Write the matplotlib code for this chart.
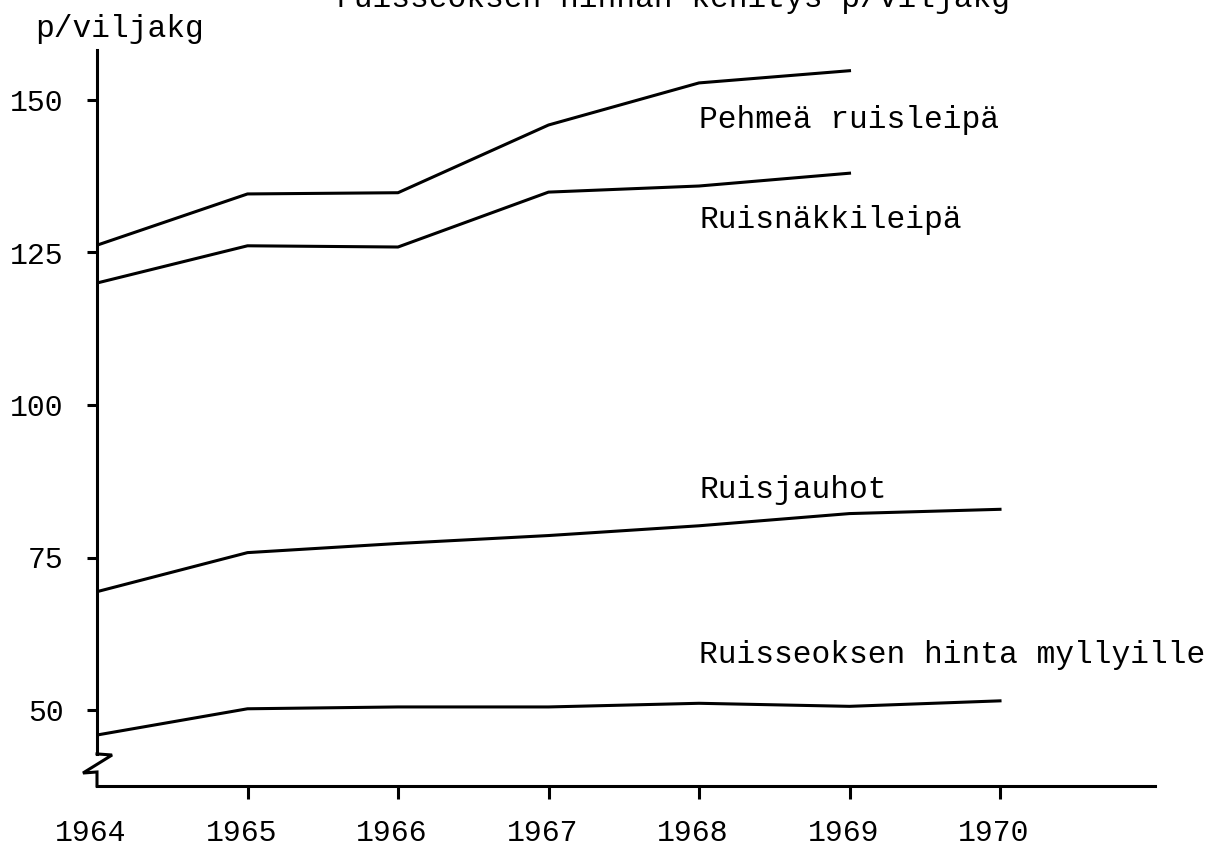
import matplotlib
matplotlib.use("Agg")
import matplotlib.pyplot as plt
import matplotlib.transforms as mtransforms

# data
years = [1964, 1965, 1966, 1967, 1968, 1969, 1970]
pehmea = [126.2, 134.6, 134.8, 145.9, 152.8, 154.8]
nakki = [120.0, 126.1, 125.9, 134.9, 135.9, 138.0]
jauhot = [69.4, 75.8, 77.3, 78.6, 80.2, 82.2, 82.9]
seos = [45.9, 50.2, 50.5, 50.5, 51.1, 50.6, 51.5]
y_ticks = [50, 75, 100, 125, 150]

labels = ["Pehmeä ruisleipä", "Ruisnäkkileipä", "Ruisjauhot",
          "Ruisseoksen hinta myllyille"]
label_y = [145.4, 129.0, 84.7, 57.7]

plt.rcParams['font.family'] = ['Liberation Mono', 'DejaVu Sans Mono']
W, H = 1220, 846
fig = plt.figure(figsize=(W / 100, H / 100), dpi=100)
ax = fig.add_axes([97 / W, 1 - 786 / H, (1155 - 97) / W, (786 - 50) / H])
ax.set_xlim(1964, 1964 + (1155 - 97) / 150.5)
ax.set_ylim(50 - 76 / 6.1, 150 + 50 / 6.1)

lw = 2.2
for vals in [pehmea, nakki, jauhot, seos]:
    ax.plot(years[:len(vals)], vals, color='black', lw=lw, solid_joinstyle='round')

for txt, y in zip(labels, label_y):
    ax.text(1968.0, y, txt, fontsize=22.5, va='baseline', ha='left')

# axes styling
for s in ['top', 'right']:
    ax.spines[s].set_visible(False)
ax.spines['left'].set_linewidth(lw)
ax.spines['bottom'].set_linewidth(lw)
ax.spines['left'].set_bounds(42.8, 150 + 50 / 6.1)

# axis break symbol on the y axis
ax.plot([1964, 1964.10, 1963.907, 1964, 1964],
        [42.8, 42.62, 39.67, 39.84, ax.get_ylim()[0]],
        color='black', lw=lw, clip_on=False, solid_joinstyle='miter')

ax.set_yticks(y_ticks)
ax.set_yticklabels([str(v) for v in y_ticks])
ax.set_xticks(years)
ax.set_xticklabels([str(y) for y in years])
ax.tick_params(axis='y', length=7, width=lw, pad=17, labelsize=21.5)
ax.tick_params(axis='x', length=9.5, width=lw, pad=14, labelsize=21.5)
ax.xaxis.get_major_ticks()[0].tick1line.set_visible(False)
shift = mtransforms.ScaledTranslation(-6 / 100, 0, fig.dpi_scale_trans)
for lab in ax.get_xticklabels():
    lab.set_transform(lab.get_transform() + shift)

fig.text(35 / W, 1 - 37 / H, "p/viljakg", fontsize=22.5, va='baseline', ha='left')
fig.text(335 / W, 1 - 7 / H, "ruisseoksen hinnan kehitys p/viljakg",
         fontsize=22.5, va='baseline', ha='left')

fig.savefig("out.png", dpi=100)
